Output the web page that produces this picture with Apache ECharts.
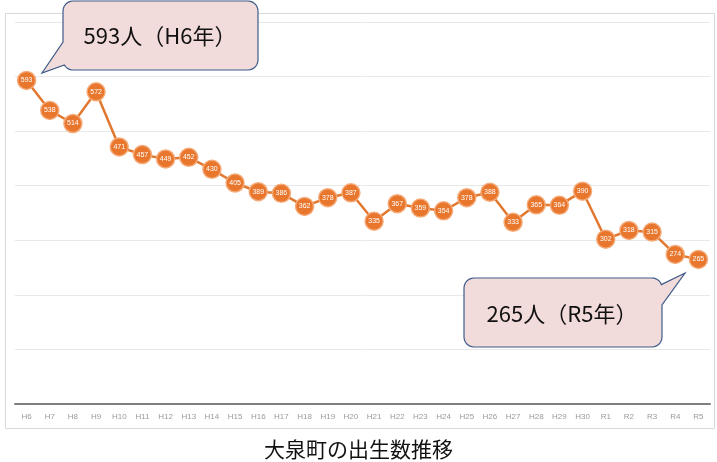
<!DOCTYPE html>
<html><head><meta charset="utf-8">
<script src="https://cdn.jsdelivr.net/npm/echarts@6/dist/echarts.min.js"></script>
<style>html,body{margin:0;padding:0;background:#fff}#c{width:717px;height:462px}</style>
</head><body><div id="c"></div>
<script>
const categories = ['H6','H7','H8','H9','H10','H11','H12','H13','H14','H15','H16','H17','H18','H19','H20','H21','H22','H23','H24','H25','H26','H27','H28','H29','H30','R1','R2','R3','R4','R5'];
const births = [593,538,514,572,471,457,449,452,430,405,389,386,362,378,387,335,367,359,354,378,388,333,365,364,390,302,318,315,274,265];
const titleText = '大泉町の出生数推移';
const calloutTop = '593人（H6年）';
const calloutBottom = '265人（R5年）';

// rounded corner helper: arc points around center
function arc(cx, cy, r, a0, a1) {
  const pts = [];
  for (let i = 0; i <= 6; i++) {
    const a = (a0 + (a1 - a0) * i / 6) * Math.PI / 180;
    pts.push([cx + r * Math.cos(a), cy + r * Math.sin(a)]);
  }
  return pts;
}
// callout 1: box 63..258 x 1..70, tail on left edge to (42,73)
function callout1() {
  const x0 = 63, x1 = 258, y0 = 1, y1 = 70, r = 10;
  let p = [];
  p = p.concat(arc(x0 + r, y0 + r, r, 180, 270));
  p = p.concat(arc(x1 - r, y0 + r, r, 270, 360));
  p = p.concat(arc(x1 - r, y1 - r, r, 0, 90));
  p = p.concat(arc(x0 + r, y1 - r, r, 90, 150));
  p.push([42, 73]);
  p.push([x0, 42]);
  return p;
}
// callout 2: box 464..662 x 278..347, tail on right edge to (685,273)
function callout2() {
  const x0 = 464, x1 = 662, y0 = 278, y1 = 347, r = 10;
  let p = [];
  p = p.concat(arc(x0 + r, y0 + r, r, 180, 270));
  p = p.concat(arc(x1 - r, y0 + r, r, 270, 340));
  p.push([685, 273]);
  p.push([x1, 305]);
  p = p.concat(arc(x1 - r, y1 - r, r, 0, 90));
  p = p.concat(arc(x0 + r, y1 - r, r, 90, 180));
  return p;
}

const chart = echarts.init(document.getElementById('c'));
chart.setOption({
  animation: false,
  title: { text: titleText, left: 'center', top: 434,
    textStyle: { fontFamily: 'Noto Sans CJK JP', fontSize: 21, fontWeight: 'normal', color: '#111' } },
  grid: { left: 15, right: 7, top: 22, bottom: 58 },
  xAxis: { type: 'category', data: categories, boundaryGap: true,
    axisLine: { lineStyle: { color: '#7f7f7f', width: 2 } },
    axisTick: { show: false },
    axisLabel: { fontSize: 8, color: '#9a9a9a', margin: 9, interval: 0 } },
  yAxis: { type: 'value', min: 0, max: 700, interval: 100,
    axisLabel: { show: false }, axisLine: { show: false }, axisTick: { show: false },
    splitLine: { lineStyle: { color: '#e8e8e8', width: 1 } } },
  series: [{
    type: 'line', data: births,
    symbol: 'circle', symbolSize: 18,
    lineStyle: { color: '#E2782F', width: 2.5 },
    itemStyle: { color: '#E8762D', borderColor: 'rgba(244,170,120,0.95)', borderWidth: 1.5 },
    label: { show: true, position: 'inside', fontSize: 7, color: '#fff', formatter: '{c}' },
    z: 3
  }],
  graphic: [
    { type: 'rect', shape: { x: 5.5, y: 13.5, width: 709, height: 415 }, style: { fill: 'none', stroke: '#d9d9d9', lineWidth: 1 }, z: -1 },
    { type: 'polygon', shape: { points: callout1() },
      style: { fill: '#F2DCDB', stroke: '#3E5B88', lineWidth: 1.2 }, z: 10 },
    { type: 'text', x: 160, y: 36, style: { text: calloutTop, fontFamily: 'Noto Sans CJK JP', fontSize: 22, fill: '#111', align: 'center', verticalAlign: 'middle' }, z: 11 },
    { type: 'polygon', shape: { points: callout2() },
      style: { fill: '#F2DCDB', stroke: '#3E5B88', lineWidth: 1.2 }, z: 10 },
    { type: 'text', x: 562, y: 314, style: { text: calloutBottom, fontFamily: 'Noto Sans CJK JP', fontSize: 22, fill: '#111', align: 'center', verticalAlign: 'middle' }, z: 11 }
  ]
});
</script></body></html>
